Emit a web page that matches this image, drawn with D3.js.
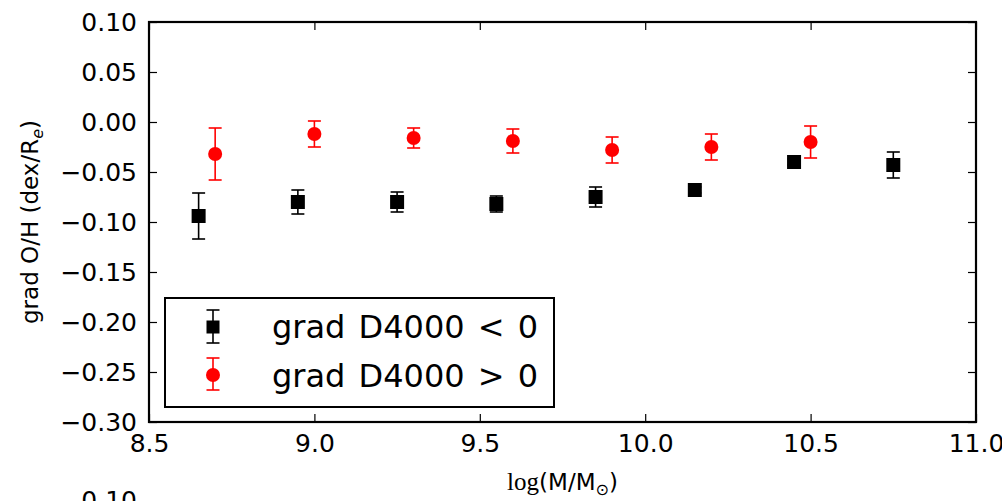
<!DOCTYPE html>
<html>
<head>
<meta charset="utf-8">
<script src="https://cdn.jsdelivr.net/npm/d3@7"></script>
<style>
  body { margin: 0; background: #fff; }
  svg { display: block; font-family: "DejaVu Sans", sans-serif; }
</style>
</head>
<body>
<div id="chart"></div>
<script>
// data
var blackX = [8.65, 8.95, 9.25, 9.55, 9.85, 10.15, 10.45, 10.75];
var blackY = [-0.094, -0.080, -0.080, -0.082, -0.075, -0.068, -0.040, -0.043];
var blackErr = [0.023, 0.012, 0.010, 0.008, 0.010, 0.003, 0.003, 0.013];

var redX = [8.7, 9.0, 9.3, 9.6, 9.9, 10.2, 10.5];
var redY = [-0.032, -0.012, -0.016, -0.019, -0.028, -0.025, -0.020];
var redErr = [0.026, 0.013, 0.010, 0.012, 0.013, 0.013, 0.016];

var xTicks = [8.5, 9.0, 9.5, 10.0, 10.5, 11.0];
var yTicks = [-0.30, -0.25, -0.20, -0.15, -0.10, -0.05, 0.00, 0.05, 0.10];

var legendLabels = ["grad D4000 < 0", "grad D4000 > 0"];

var width = 1002, height = 501;
var margin = {top: 22, right: 26, bottom: 79, left: 149};
var w = width - margin.left - margin.right,
    h = height - margin.top - margin.bottom;

var svg = d3.select("#chart").append("svg")
  .attr("width", width)
  .attr("height", height);

var x = d3.scaleLinear().domain([8.5, 11.0]).range([0, w]);
var y = d3.scaleLinear().domain([-0.30, 0.10]).range([h, 0]);

var g = svg.append("g").attr("transform", "translate(" + margin.left + "," + margin.top + ")");

var fmtY = function(d) { return d3.format(".2f")(d).replace("-", "\u2212"); };
var fmtX = d3.format(".1f");

// axes, ticks pointing inward on all four sides
var tickLen = 8;
g.append("g").attr("transform", "translate(0," + h + ")")
  .call(d3.axisBottom(x).tickValues(xTicks).tickFormat(fmtX).tickSizeInner(-tickLen).tickSizeOuter(0).tickPadding(12))
  .call(a => a.select(".domain").remove());
g.append("g")
  .call(d3.axisTop(x).tickValues(xTicks).tickFormat("").tickSizeInner(-tickLen).tickSizeOuter(0))
  .call(a => a.select(".domain").remove());
g.append("g")
  .call(d3.axisLeft(y).tickValues(yTicks).tickFormat(fmtY).tickSizeInner(-tickLen).tickSizeOuter(0).tickPadding(12))
  .call(a => a.select(".domain").remove());
g.append("g").attr("transform", "translate(" + w + ",0)")
  .call(d3.axisRight(y).tickValues(yTicks).tickFormat("").tickSizeInner(-tickLen).tickSizeOuter(0))
  .call(a => a.select(".domain").remove());

g.selectAll(".tick line").attr("stroke", "#000").attr("stroke-width", 1.2);
g.selectAll(".tick text").attr("fill", "#000").style("font-size", "25px")
  .style("font-family", "DejaVu Sans, sans-serif");

g.append("rect")
  .attr("width", w).attr("height", h)
  .attr("fill", "none").attr("stroke", "#000").attr("stroke-width", 2.2);

// error bars helper
function errorBars(xs, ys, es, color) {
  var data = xs.map((v, i) => ({x: v, y: ys[i], e: es[i]}));
  var eg = g.append("g").attr("stroke", color).attr("stroke-width", 1.6);
  eg.selectAll(".v").data(data).join("line")
    .attr("x1", d => x(d.x)).attr("x2", d => x(d.x))
    .attr("y1", d => y(d.y - d.e)).attr("y2", d => y(d.y + d.e));
  eg.selectAll(".t").data(data).join("line")
    .attr("x1", d => x(d.x) - 6.5).attr("x2", d => x(d.x) + 6.5)
    .attr("y1", d => y(d.y + d.e)).attr("y2", d => y(d.y + d.e));
  eg.selectAll(".b").data(data).join("line")
    .attr("x1", d => x(d.x) - 6.5).attr("x2", d => x(d.x) + 6.5)
    .attr("y1", d => y(d.y - d.e)).attr("y2", d => y(d.y - d.e));
  return data;
}

var bData = errorBars(blackX, blackY, blackErr, "#000");
g.append("g").selectAll("rect").data(bData).join("rect")
  .attr("x", d => x(d.x) - 7).attr("y", d => y(d.y) - 7)
  .attr("width", 14).attr("height", 14).attr("fill", "#000");

var rData = errorBars(redX, redY, redErr, "#ff0000");
g.append("g").selectAll("circle").data(rData).join("circle")
  .attr("cx", d => x(d.x)).attr("cy", d => y(d.y))
  .attr("r", 7).attr("fill", "#ff0000");

// legend
var lg = svg.append("g").attr("transform", "translate(165,298)");
lg.append("rect").attr("width", 389).attr("height", 109)
  .attr("fill", "#fff").attr("stroke", "#000").attr("stroke-width", 2);

var rows = [29, 77];
// row 1: black square w/ error bar
lg.append("line").attr("x1", 48).attr("x2", 48).attr("y1", rows[0] - 17).attr("y2", rows[0] + 16).attr("stroke", "#000").attr("stroke-width", 1.6);
lg.append("line").attr("x1", 41.5).attr("x2", 54.5).attr("y1", rows[0] - 17).attr("y2", rows[0] - 17).attr("stroke", "#000").attr("stroke-width", 1.6);
lg.append("line").attr("x1", 41.5).attr("x2", 54.5).attr("y1", rows[0] + 16).attr("y2", rows[0] + 16).attr("stroke", "#000").attr("stroke-width", 1.6);
lg.append("rect").attr("x", 41.5).attr("y", rows[0] - 6.5).attr("width", 13).attr("height", 13).attr("fill", "#000");
// row 2: red circle w/ error bar
lg.append("line").attr("x1", 48).attr("x2", 48).attr("y1", rows[1] - 17).attr("y2", rows[1] + 15).attr("stroke", "#ff0000").attr("stroke-width", 1.6);
lg.append("line").attr("x1", 41.5).attr("x2", 54.5).attr("y1", rows[1] - 17).attr("y2", rows[1] - 17).attr("stroke", "#ff0000").attr("stroke-width", 1.6);
lg.append("line").attr("x1", 41.5).attr("x2", 54.5).attr("y1", rows[1] + 15).attr("y2", rows[1] + 15).attr("stroke", "#ff0000").attr("stroke-width", 1.6);
lg.append("circle").attr("cx", 48).attr("cy", rows[1]).attr("r", 7).attr("fill", "#ff0000");

lg.selectAll("text.lab").data(legendLabels).join("text")
  .attr("class", "lab")
  .attr("x", 107).attr("y", (d, i) => rows[i] + 11 + i)
  .style("font-size", "32px").style("word-spacing", "3px")
  .attr("fill", "#000")
  .text(d => d);

// y label
svg.append("text")
  .attr("transform", "translate(38," + (margin.top + h / 2) + ") rotate(-90)")
  .attr("text-anchor", "middle")
  .style("font-size", "23px")
  .attr("fill", "#000")
  .call(t => {
    t.append("tspan").text("grad O/H (dex/R");
    t.append("tspan").attr("dy", 5).style("font-size", "16px").style("font-style", "italic").text("e");
    t.append("tspan").attr("dy", -5).text(")");
  });

// x label
svg.append("text")
  .attr("x", margin.left + w / 2).attr("y", 490)
  .attr("text-anchor", "middle")
  .style("font-size", "23px")
  .attr("fill", "#000")
  .call(t => {
    t.append("tspan").style("font-family", "Liberation Serif, serif").style("font-size", "25px").text("log");
    t.append("tspan").text("(M/M");
    t.append("tspan").attr("dy", 5).style("font-size", "16px").text("\u2299");
    t.append("tspan").attr("dy", -5).text(")");
  });

// top of the next panel, cut off by the frame
svg.append("text")
  .attr("x", 137).attr("y", 509)
  .attr("text-anchor", "end")
  .style("font-size", "25px")
  .attr("fill", "#000")
  .text("0.10");
</script>
</body>
</html>
